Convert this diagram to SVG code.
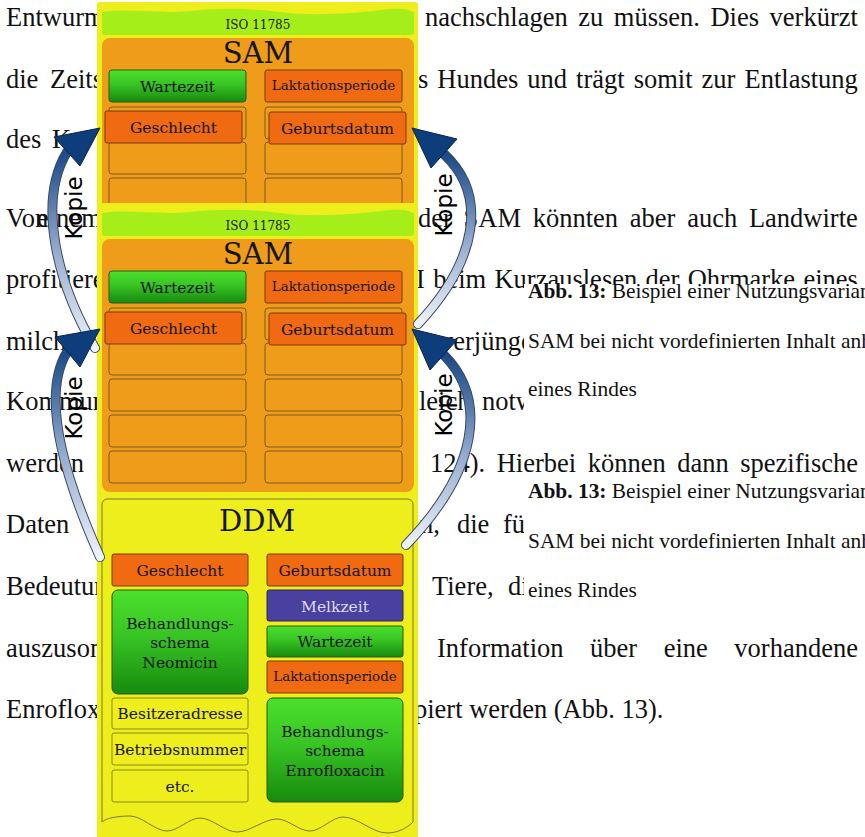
<svg xmlns="http://www.w3.org/2000/svg" width="865" height="837" viewBox="0 0 865 837">
  <defs>
    <style>
      .body { font-family: "Liberation Serif", "Times New Roman", serif; font-size: 26.5px; fill: #111; }
      .cap { font-family: "Liberation Serif", "Times New Roman", serif; font-size: 21.4px; fill: #111; }
      .lbl { font-family: "DejaVu Serif", serif; font-size: 15.5px; fill: #151515; text-anchor: middle; }
      .sm { font-size: 13.4px; }
      .big { font-size: 29px; }
      .iso { font-size: 12px; }
      .light { fill: #dcdcec; }
      .kopie { font-family: "DejaVu Sans", sans-serif; font-size: 23px; fill: #000; text-anchor: middle; }
      .bg { fill: #eeee1c; }
      .isoband { fill: #a6ee1a; }
      .sampanel { fill: #ee9c1a; }
      .slot { fill: #ee9c1a; stroke: #7f5a1e; stroke-width: 1; }
      .orange { fill: #f06a12; stroke: #7a3a10; stroke-width: 1; }
      .green { fill: url(#gGreen); stroke: #285a18; stroke-width: 1; }
      .purple { fill: #4a40a0; stroke: #2a2262; stroke-width: 1; }
      .ybox { fill: #eeee1c; stroke: #8a8a20; stroke-width: 1; }
      .ddm { fill: #eeee1c; stroke: #7a7a24; stroke-width: 1; }
      .head { fill: #0e3d7c; stroke: #0a2448; stroke-width: 1; stroke-linejoin: round; }
      .shaft-edge { fill: none; stroke: #3a4a60; stroke-width: 10; stroke-linecap: round; }
      .shaft { fill: none; stroke-width: 8; stroke-linecap: round; }
    </style>
    <linearGradient id="gGreen" x1="0" y1="0" x2="0" y2="1">
      <stop offset="0" stop-color="#4ce02c"/>
      <stop offset="0.45" stop-color="#38c424"/>
      <stop offset="1" stop-color="#178a0e"/>
    </linearGradient>
    <linearGradient id="gTL" gradientUnits="userSpaceOnUse" x1="95" y1="348" x2="67" y2="152">
      <stop offset="0" stop-color="#eef2f9"/>
      <stop offset="0.5" stop-color="#98aed0"/>
      <stop offset="1" stop-color="#1c4a88"/>
    </linearGradient>
    <linearGradient id="gBL" gradientUnits="userSpaceOnUse" x1="100" y1="557" x2="67" y2="352">
      <stop offset="0" stop-color="#eef2f9"/>
      <stop offset="0.5" stop-color="#98aed0"/>
      <stop offset="1" stop-color="#1c4a88"/>
    </linearGradient>
    <linearGradient id="gTR" gradientUnits="userSpaceOnUse" x1="418" y1="324" x2="444" y2="154">
      <stop offset="0" stop-color="#eef2f9"/>
      <stop offset="0.5" stop-color="#98aed0"/>
      <stop offset="1" stop-color="#1c4a88"/>
    </linearGradient>
    <linearGradient id="gBR" gradientUnits="userSpaceOnUse" x1="406" y1="545" x2="444" y2="355">
      <stop offset="0" stop-color="#eef2f9"/>
      <stop offset="0.5" stop-color="#98aed0"/>
      <stop offset="1" stop-color="#1c4a88"/>
    </linearGradient>
  </defs>

  <rect x="0" y="0" width="865" height="837" fill="#fff"/>

  <!-- running page text behind the figure (justified lines use word-spacing) -->
  <g id="page-text" class="body">
    <text y="26"><tspan x="6">Entwurm</tspan></text>
    <text x="425" y="26" word-spacing="3.9">nachschlagen zu müssen. Dies verkürzt</text>
    <text y="88"><tspan x="6">die</tspan><tspan x="50">Zeits</tspan></text>
    <text x="418" y="88" word-spacing="2.4">s Hundes und trägt somit zur Entlastung</text>
    <text y="148"><tspan x="6">des</tspan><tspan x="52">K</tspan></text>
    <text y="227"><tspan x="6">Von</tspan><tspan x="37">einem</tspan></text>
    <text x="418" y="227" word-spacing="5.1">der SAM könnten aber auch Landwirte</text>
    <text y="288"><tspan x="6">profitieren</tspan></text>
    <text x="416" y="288" word-spacing="1.7">I beim Kurzauslesen der Ohrmarke eines</text>
    <text y="350"><tspan x="6">milch</tspan><tspan x="440">verjünge</tspan></text>
    <text y="410"><tspan x="6">Kommun</tspan><tspan x="419">leich</tspan><tspan x="482">notw</tspan></text>
    <text y="472"><tspan x="6">werden</tspan></text>
    <text x="430" y="472" word-spacing="4.9">124). Hierbei können dann spezifische</text>
    <text y="533"><tspan x="6">Daten</tspan><tspan x="420">n,</tspan><tspan x="457">die</tspan><tspan x="503">fü</tspan></text>
    <text y="595"><tspan x="6">Bedeutun</tspan><tspan x="432">Tiere,</tspan><tspan x="508">di</tspan></text>
    <text y="657"><tspan x="6">auszuson</tspan></text>
    <text x="437" y="657" word-spacing="19.9">Information über eine vorhandene</text>
    <text y="718"><tspan x="6">Enroflox</tspan><tspan x="414">piert werden (Abb. 13).</tspan></text>
  </g>

  <!-- figure captions on white boxes -->
  <g id="caption-1">
    <rect x="524" y="284" width="341" height="136" fill="#fff"/>
    <text class="cap" x="528" y="298"><tspan font-weight="bold">Abb. 13:</tspan> Beispiel einer Nutzungsvarian</text>
    <text class="cap" x="528" y="348">SAM bei nicht vordefinierten Inhalt anh</text>
    <text class="cap" x="528" y="396">eines Rindes</text>
  </g>
  <g id="caption-2">
    <rect x="524" y="484" width="341" height="136" fill="#fff"/>
    <text class="cap" x="528" y="498"><tspan font-weight="bold">Abb. 13:</tspan> Beispiel einer Nutzungsvarian</text>
    <text class="cap" x="528" y="548">SAM bei nicht vordefinierten Inhalt anh</text>
    <text class="cap" x="528" y="597">eines Rindes</text>
  </g>

  <!-- upper SAM copy (partly covered by the full module below) -->
  <g id="sam-copy">
    <rect class="bg" x="97" y="2" width="321" height="230" rx="3"/>
    <g id="sam-copy-iso">
      <path class="isoband" d="M102,12 C130,8 160,14 190,11 S250,8 280,12 S350,14 380,10 S410,12 414,12 L414,32 Q414,35 411,35 L105,35 Q102,35 102,32 Z"/>
      <text class="lbl iso" x="258" y="29">ISO 11785</text>
    </g>
    <rect class="sampanel" x="102" y="38" width="312" height="200" rx="8"/>
    <text class="lbl big" x="258" y="63">SAM</text>
    <rect class="slot" x="109" y="107" width="137" height="32" rx="3"/>
    <rect class="slot" x="265" y="107" width="137" height="32" rx="3"/>
    <rect class="slot" x="109" y="142" width="137" height="32" rx="3"/>
    <rect class="slot" x="265" y="142" width="137" height="32" rx="3"/>
    <rect class="slot" x="109" y="178" width="137" height="32" rx="3"/>
    <rect class="slot" x="265" y="178" width="137" height="32" rx="3"/>
    <g id="sam-copy-wartezeit">
      <rect class="green" x="109" y="70" width="137" height="32" rx="3"/>
      <text class="lbl" x="177.5" y="92">Wartezeit</text>
    </g>
    <g id="sam-copy-laktation">
      <rect class="orange" x="265" y="70" width="137" height="32" rx="2"/>
      <text class="lbl sm" x="333.5" y="90">Laktationsperiode</text>
    </g>
    <g id="sam-copy-geschlecht">
      <rect class="orange" x="105" y="111" width="137" height="32" rx="2"/>
      <text class="lbl" x="173.5" y="133">Geschlecht</text>
    </g>
    <g id="sam-copy-geburtsdatum">
      <rect class="orange" x="269" y="112" width="137" height="32" rx="2"/>
      <text class="lbl" x="337.5" y="134">Geburtsdatum</text>
    </g>
  </g>

  <!-- full module: SAM on top of DDM -->
  <g id="module">
    <rect class="bg" x="97" y="203" width="321" height="645" rx="3"/>
  </g>

  <g id="sam" transform="translate(0,201)">
    <g id="sam-iso">
      <path class="isoband" d="M102,12 C130,8 160,14 190,11 S250,8 280,12 S350,14 380,10 S410,12 414,12 L414,32 Q414,35 411,35 L105,35 Q102,35 102,32 Z"/>
      <text class="lbl iso" x="258" y="29">ISO 11785</text>
    </g>
    <rect class="sampanel" x="102" y="38" width="312" height="253" rx="8"/>
    <text class="lbl big" x="258" y="63">SAM</text>
    <rect class="slot" x="109" y="107" width="137" height="32" rx="3"/>
    <rect class="slot" x="265" y="107" width="137" height="32" rx="3"/>
    <rect class="slot" x="109" y="142" width="137" height="32" rx="3"/>
    <rect class="slot" x="265" y="142" width="137" height="32" rx="3"/>
    <rect class="slot" x="109" y="178" width="137" height="32" rx="3"/>
    <rect class="slot" x="265" y="178" width="137" height="32" rx="3"/>
    <rect class="slot" x="109" y="214" width="137" height="32" rx="3"/>
    <rect class="slot" x="265" y="214" width="137" height="32" rx="3"/>
    <rect class="slot" x="109" y="250" width="137" height="32" rx="3"/>
    <rect class="slot" x="265" y="250" width="137" height="32" rx="3"/>
    <g id="sam-wartezeit">
      <rect class="green" x="109" y="70" width="137" height="32" rx="3"/>
      <text class="lbl" x="177.5" y="92">Wartezeit</text>
    </g>
    <g id="sam-laktation">
      <rect class="orange" x="265" y="70" width="137" height="32" rx="2"/>
      <text class="lbl sm" x="333.5" y="90">Laktationsperiode</text>
    </g>
    <g id="sam-geschlecht">
      <rect class="orange" x="105" y="111" width="137" height="32" rx="2"/>
      <text class="lbl" x="173.5" y="133">Geschlecht</text>
    </g>
    <g id="sam-geburtsdatum">
      <rect class="orange" x="269" y="112" width="137" height="32" rx="2"/>
      <text class="lbl" x="337.5" y="134">Geburtsdatum</text>
    </g>
  </g>

  <g id="ddm">
    <path class="ddm" d="M102,505 Q102,499 108,499 L407,499 Q413,499 413,505 L413,822 C405,830 395,833 387,833 C372,833 358,817 343,817 C332,817 321,831 310,831 C299,831 288,819 277,819 C264,819 250,832 237,832 C225,832 212,818 200,818 C189,818 178,831 167,831 C155,831 142,816 130,816 C118,816 106,818 102,822 Z"/>
    <text class="lbl big" x="257" y="531">DDM</text>
    <g id="ddm-geschlecht">
      <rect class="orange" x="112" y="554" width="136" height="32" rx="2"/>
      <text class="lbl" x="180" y="576">Geschlecht</text>
    </g>
    <g id="ddm-neomicin">
      <rect class="green" x="112" y="590" width="136" height="104" rx="6"/>
      <text class="lbl" x="180" y="629">Behandlungs-</text>
      <text class="lbl" x="180" y="648">schema</text>
      <text class="lbl" x="180" y="668">Neomicin</text>
    </g>
    <g id="ddm-besitzeradresse">
      <rect class="ybox" x="112" y="698" width="136" height="31" rx="2"/>
      <text class="lbl" x="180" y="719">Besitzeradresse</text>
    </g>
    <g id="ddm-betriebsnummer">
      <rect class="ybox" x="112" y="733" width="136" height="32" rx="2"/>
      <text class="lbl" x="180" y="755">Betriebsnummer</text>
    </g>
    <g id="ddm-etc">
      <rect class="ybox" x="112" y="770" width="136" height="32" rx="2"/>
      <text class="lbl" x="180" y="792">etc.</text>
    </g>
    <g id="ddm-geburtsdatum">
      <rect class="orange" x="267" y="554" width="136" height="32" rx="2"/>
      <text class="lbl" x="335" y="576">Geburtsdatum</text>
    </g>
    <g id="ddm-melkzeit">
      <rect class="purple" x="267" y="590" width="136" height="31" rx="2"/>
      <text class="lbl light" x="335" y="612">Melkzeit</text>
    </g>
    <g id="ddm-wartezeit">
      <rect class="green" x="267" y="626" width="136" height="31" rx="2"/>
      <text class="lbl" x="335" y="647">Wartezeit</text>
    </g>
    <g id="ddm-laktation">
      <rect class="orange" x="267" y="661" width="136" height="32" rx="2"/>
      <text class="lbl sm" x="335" y="681">Laktationsperiode</text>
    </g>
    <g id="ddm-enrofloxacin">
      <rect class="green" x="267" y="698" width="136" height="104" rx="6"/>
      <text class="lbl" x="335" y="737">Behandlungs-</text>
      <text class="lbl" x="335" y="756">schema</text>
      <text class="lbl" x="335" y="776">Enrofloxacin</text>
    </g>
  </g>

  <!-- copy arrows -->
  <g id="connectors">
    <path class="shaft-edge" d="M95,348 C55,280 38,200 67,152"/>
    <path class="shaft" stroke="url(#gTL)" d="M95,348 C55,280 38,200 67,152"/>
    <polygon class="head" points="100,128 54,137 80,166"/>

    <path class="shaft-edge" d="M100,557 C70,490 38,400 67,352"/>
    <path class="shaft" stroke="url(#gBL)" d="M100,557 C70,490 38,400 67,352"/>
    <polygon class="head" points="100,329 55,337 80,367"/>

    <path class="shaft-edge" d="M418,324 C478,260 488,195 444,154"/>
    <path class="shaft" stroke="url(#gTR)" d="M418,324 C478,260 488,195 444,154"/>
    <polygon class="head" points="412,128 457,139 431,168"/>

    <path class="shaft-edge" d="M406,545 C478,470 488,400 444,355"/>
    <path class="shaft" stroke="url(#gBR)" d="M406,545 C478,470 488,400 444,355"/>
    <polygon class="head" points="412,329 457,340 430,370"/>

    <text class="kopie" transform="translate(82,208) rotate(-90)">Kopie</text>
    <text class="kopie" transform="translate(82,408) rotate(-90)">Kopie</text>
    <text class="kopie" transform="translate(452,205) rotate(-90)">Kopie</text>
    <text class="kopie" transform="translate(452,405) rotate(-90)">Kopie</text>
  </g>
</svg>
